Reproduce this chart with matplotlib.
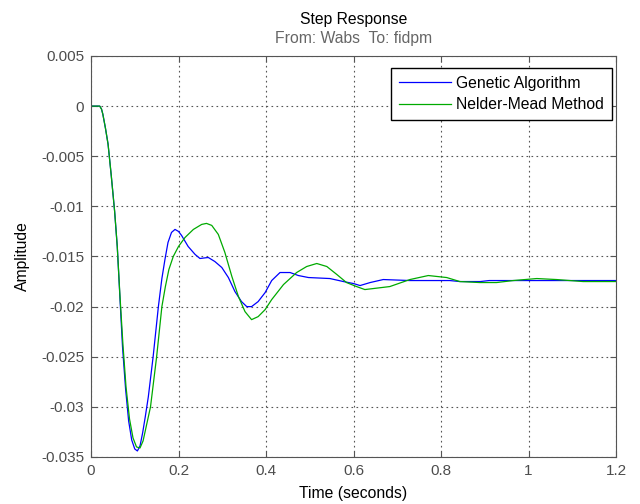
import matplotlib
matplotlib.use("Agg")
import matplotlib.pyplot as plt

plt.rcParams["font.family"] = ["Liberation Sans", "DejaVu Sans"]

# Genetic Algorithm step response
ga_t = [0.0, 0.02, 0.024, 0.027, 0.033, 0.039, 0.046, 0.054, 0.060, 0.066,
        0.072, 0.079, 0.086, 0.093, 0.100, 0.106, 0.112, 0.118, 0.124,
        0.131, 0.142, 0.154, 0.162, 0.169, 0.176, 0.184, 0.192, 0.200,
        0.207, 0.222, 0.238, 0.249, 0.268, 0.283, 0.299, 0.314, 0.329,
        0.344, 0.356, 0.367, 0.382, 0.398, 0.413, 0.432, 0.455, 0.474,
        0.497, 0.546, 0.577, 0.600, 0.615, 0.638, 0.668, 0.729, 0.820,
        0.843, 0.890, 0.910, 1.0, 1.1, 1.2]
ga_y = [0.0, 0.0, -0.0003, -0.0008, -0.0022, -0.0038, -0.0068, -0.0105,
        -0.0140, -0.0190, -0.0240, -0.0282, -0.0314, -0.0333, -0.0342,
        -0.0344, -0.0339, -0.0326, -0.0310, -0.0290, -0.0250, -0.0200,
        -0.0172, -0.0153, -0.0136, -0.0126, -0.0123, -0.0125, -0.0129,
        -0.0140, -0.0148, -0.0152, -0.0151, -0.0155, -0.0161, -0.0171,
        -0.0185, -0.0195, -0.0200, -0.0200, -0.0195, -0.0186, -0.0174,
        -0.0166, -0.0166, -0.0169, -0.0171, -0.0172, -0.0175, -0.0177,
        -0.0179, -0.0176, -0.0173, -0.0174, -0.0174, -0.0175, -0.0175,
        -0.0174, -0.0174, -0.0174, -0.0174]

# Nelder-Mead Method step response
nm_t = [0.0, 0.02, 0.024, 0.027, 0.033, 0.039, 0.046, 0.054, 0.060, 0.066,
        0.073, 0.080, 0.088, 0.096, 0.104, 0.112, 0.119, 0.126, 0.136,
        0.150, 0.162, 0.170, 0.178, 0.188, 0.200, 0.215, 0.234, 0.253,
        0.264, 0.276, 0.291, 0.306, 0.322, 0.337, 0.352, 0.367, 0.382,
        0.398, 0.413, 0.440, 0.470, 0.493, 0.516, 0.539, 0.562, 0.584,
        0.607, 0.626, 0.645, 0.683, 0.729, 0.771, 0.813, 0.843, 0.889,
        0.927, 0.965, 1.019, 1.064, 1.125, 1.2]
nm_y = [0.0, 0.0, -0.0003, -0.0008, -0.0022, -0.0038, -0.0068, -0.0105,
        -0.0140, -0.0188, -0.0238, -0.0280, -0.0312, -0.0331, -0.0340,
        -0.0341, -0.0334, -0.0320, -0.0300, -0.0250, -0.0200, -0.0180,
        -0.0163, -0.0150, -0.0140, -0.0131, -0.0123, -0.0118, -0.0117,
        -0.0119, -0.0128, -0.0146, -0.0170, -0.0190, -0.0205, -0.0213,
        -0.0210, -0.0203, -0.0193, -0.0178, -0.0166, -0.0160, -0.0157,
        -0.0160, -0.0168, -0.0176, -0.0180, -0.0183, -0.0182, -0.0180,
        -0.0173, -0.0169, -0.0171, -0.0175, -0.0176, -0.0176, -0.0174,
        -0.0172, -0.0173, -0.0175, -0.0175]

x_ticks = [0, 0.2, 0.4, 0.6, 0.8, 1.0, 1.2]
x_labels = ["0", "0.2", "0.4", "0.6", "0.8", "1", "1.2"]
y_ticks = [0.005, 0, -0.005, -0.01, -0.015, -0.02, -0.025, -0.03, -0.035]
y_labels = ["0.005", "0", "-0.005", "-0.01", "-0.015", "-0.02", "-0.025",
            "-0.03", "-0.035"]

fig = plt.figure(figsize=(6.4, 5.04), dpi=100)
ax = fig.add_axes([0.1422, 0.0933, 0.8203, 0.7956])

ax.plot(ga_t, ga_y, color="#0000ff", lw=0.9, label="Genetic Algorithm")
ax.plot(nm_t, nm_y, color="#00aa00", lw=0.9, label="Nelder-Mead Method")

ax.set_xlim(0, 1.2)
ax.set_ylim(-0.035, 0.005)
ax.set_xticks(x_ticks)
ax.set_xticklabels(x_labels)
ax.set_yticks(y_ticks)
ax.set_yticklabels(y_labels)
ax.tick_params(direction="in", top=True, right=True, length=4, pad=5,
               labelsize=11, labelcolor="#4d4d4d", color="#555555")
for s in ax.spines.values():
    s.set_color("#555555")
    s.set_linewidth(0.8)
ax.grid(True, color="#555555", linestyle=(0, (1.5, 3)), linewidth=0.8)

ax.set_xlabel("Time (seconds)", fontsize=11.3, labelpad=6)
ax.set_ylabel("Amplitude", fontsize=11.3, labelpad=8)

# titles centred over the axes, MATLAB style
cx = 0.1422 + 0.8203 / 2
fig.text(cx, 0.962, "Step Response", ha="center", va="center", fontsize=11.3)
fig.text(cx, 0.924, "From: Wabs  To: fidpm", ha="center", va="center",
         fontsize=11.3, color="#666666")

leg = ax.legend(loc="upper right", bbox_to_anchor=(0.9924, 0.970),
                fontsize=11.3, fancybox=False, framealpha=1,
                edgecolor="black", borderaxespad=0, handlelength=3.3,
                handletextpad=0.35, borderpad=0.5, labelspacing=0.4)
leg.get_frame().set_linewidth(1.0)

fig.savefig("out.png", dpi=100)
